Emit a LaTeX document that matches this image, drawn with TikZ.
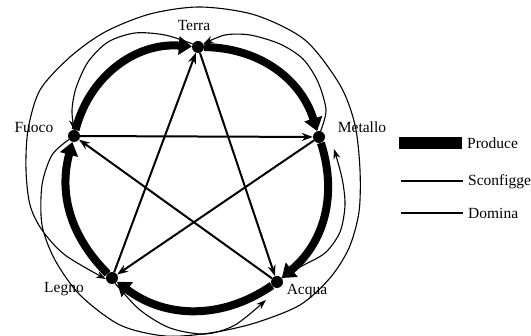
\documentclass[tikz,border=0pt]{standalone}
\usepackage{fontspec}
\setmainfont{Liberation Serif}
\usetikzlibrary{arrows.meta}
\begin{document}
\begin{tikzpicture}[x=1pt,y=-1pt,
  dot/.style={circle,fill=black,inner sep=0pt,minimum size=12pt},
  lab/.style={font=\fontsize{15.5}{16}\selectfont,inner sep=0pt},
  produce/.style={line width=8pt,-{Triangle[length=13pt,width=18pt]}},
  sconf/.style={line width=2pt,-{Stealth[length=11pt,width=8pt]}},
  domina/.style={line width=1.1pt,-{Stealth[length=10pt,width=7pt]}},
  outerc/.style={line width=1.1pt}]
\useasboundingbox (0,0) rectangle (531,336);
% element nodes
\node[dot] (terra) at (198,47) {};
\node[dot] (metallo) at (319,137) {};
\node[dot] (acqua) at (277,282) {};
\node[dot] (legno) at (112,278) {};
\node[dot] (fuoco) at (74,136) {};
% labels
\node[lab] (lterra) at (194,26) {Terra};
\node[lab] (lmetallo) at (362,127) {Metallo};
\node[lab] (lfuoco) at (34,128) {Fuoco};
\node[lab] (llegno) at (64,289) {Legno};
\node[lab] (lacqua) at (307,291) {Acqua};
% produce (thick)
\draw[produce] (fuoco) to[bend left=40] (terra);
\draw[produce] (terra) to[bend left=36] (metallo);
\draw[produce] (metallo) to[bend left=34] (acqua);
\draw[produce] (acqua) to[bend left=36] (legno);
\draw[produce] (legno) to[bend left=30] (fuoco);
% sconfigge (star)
\draw[sconf] (fuoco) -- (metallo);
\draw[sconf] (metallo) -- (legno);
\draw[sconf] (legno) -- (terra);
\draw[sconf] (terra) -- (acqua);
\draw[sconf] (acqua) -- (fuoco);
% domina (thin arcs)
\coordinate (tipM) at (334,149);
\coordinate (tipA) at (266,300);
\draw[domina] plot[smooth] coordinates {(metallo.75) (326,110) (318,82) (303,59) (280,44) (250,35) (225,35) (terra.30)};
\draw[domina] plot[smooth] coordinates {(terra.150) (165,35) (135,33) (108,42) (88,62) (76,88) (72,110) (fuoco.north)};
\draw[domina] plot[smooth] coordinates {(legno.-60) (140,310) (170,328) (205,334) (235,325) (tipA)};
\draw[domina] plot[smooth] coordinates {(acqua.40) (300,267) (325,253) (340,232) (345,205) (342,178) (tipM)};
\draw[domina] plot[smooth] coordinates {(fuoco.-145) (52,155) (42,185) (42,225) (55,260) (80,295) (120,325) (165,336) (210,333) (255,323) (300,305) (330,278) (349,248) (359,212) (360,170) (355,125) (340,85) (305,40) (255,15) (200,7) (150,14) (105,32) (70,57) (40,90) (28,130) (26,170) (30,205) (42,230) (65,255) (legno.190)};
% legend
\coordinate (lp1) at (399,143);
\coordinate (lp2) at (462,143);
\coordinate (ls1) at (401,181);
\coordinate (ls2) at (463,181);
\coordinate (ld1) at (401,213);
\coordinate (ld2) at (463,213);
\draw[line width=12pt] (lp1) -- (lp2);
\draw[line width=2pt] (ls1) -- (ls2);
\draw[line width=1.1pt] (ld1) -- (ld2);
\node[lab,anchor=west] (tprod) at (467,143) {Produce};
\node[lab,anchor=west] (tsconf) at (468,182) {Sconfigge};
\node[lab,anchor=west] (tdom) at (468,213) {Domina};
\end{tikzpicture}
\end{document}
